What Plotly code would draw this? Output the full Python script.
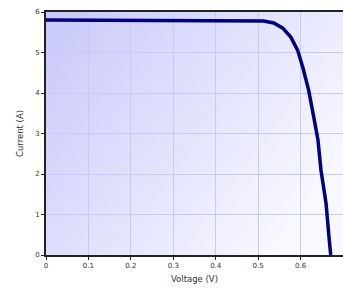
import plotly.graph_objects as go

voltage = [0.0, 0.1, 0.2, 0.3, 0.4, 0.48, 0.513, 0.537, 0.558, 0.577, 0.593, 0.605,
           0.619, 0.631, 0.641, 0.648, 0.660, 0.667, 0.671]
current = [5.80, 5.80, 5.80, 5.80, 5.80, 5.79, 5.78, 5.73, 5.60, 5.38, 5.06, 4.64,
           4.07, 3.41, 2.84, 2.10, 1.28, 0.44, 0.0]
x_ticks = [0, 0.1, 0.2, 0.3, 0.4, 0.5, 0.6, 0.7]
y_ticks = [0, 1, 2, 3, 4, 5, 6]

svg = ("data:image/svg+xml;utf8,<svg xmlns='http://www.w3.org/2000/svg' width='100' height='100' "
       "preserveAspectRatio='none'><defs><linearGradient id='g' x1='0' y1='0' x2='1' y2='0.6'>"
       "<stop offset='0' stop-color='%23c8c8fa'/><stop offset='1' stop-color='%23f8f8ff'/>"
       "</linearGradient></defs><rect width='100' height='100' fill='url(%23g)'/></svg>")

fig = go.Figure()
fig.add_trace(go.Scatter(x=voltage, y=current, mode="lines",
                         line=dict(color="#000080", width=3.5),
                         showlegend=False))

fig.add_layout_image(dict(source=svg, xref="paper", yref="paper", x=0, y=1,
                          sizex=1, sizey=1, sizing="stretch", layer="below"))

font = dict(family="DejaVu Sans, Verdana, sans-serif", size=7, color="#333")
fig.update_layout(
    width=343, height=295,
    margin=dict(l=46, r=0, t=12, b=40),
    paper_bgcolor="white", plot_bgcolor="rgba(0,0,0,0)",
    font=font,
    xaxis=dict(range=[0, 0.7], tickvals=x_ticks, ticktext=[str(v) for v in x_ticks],
               automargin=False,
               showgrid=True, gridcolor="#c8c8ff", gridwidth=1,
               showline=True, linecolor="#222", linewidth=2, mirror=True,
               ticks="outside", ticklen=3, tickcolor="#222", zeroline=False,
               title=dict(text="Voltage (V)", font=dict(size=8.5, color="#333"), standoff=7)),
    yaxis=dict(range=[0, 6], tickvals=y_ticks, automargin=False,
               showgrid=True, gridcolor="#c8c8ff", gridwidth=1,
               showline=True, linecolor="#222", linewidth=2,
               ticks="outside", ticklen=3, tickcolor="#222", zeroline=False,
               title=dict(text="Current (A)", font=dict(size=8.5, color="#333"), standoff=10)),
)
fig.write_html("out.html", config={"displayModeBar": False},
               post_script="document.body.style.margin='0';document.body.style.overflow='hidden';")
